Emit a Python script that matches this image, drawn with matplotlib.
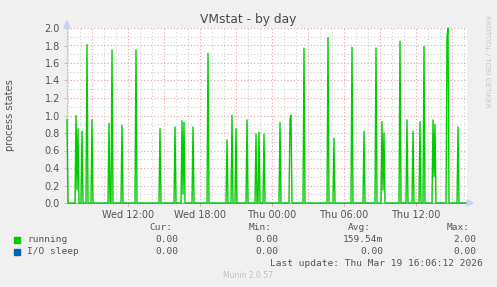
import numpy as np
import pandas as pd
import matplotlib
matplotlib.use("Agg")
import matplotlib.pyplot as plt
import matplotlib.dates as mdates

# 5 minute samples, graph window
start_time = "2026-03-18 06:55"
n_samples = 400

# non-zero samples of "running" (sample time, value)
running_times = ["03-18 06:55", "03-18 07:40", "03-18 07:45", "03-18 07:50", "03-18 08:10",
                 "03-18 08:35", "03-18 09:00", "03-18 10:25", "03-18 10:40", "03-18 11:30",
                 "03-18 12:40", "03-18 14:40", "03-18 15:55", "03-18 16:30", "03-18 16:35",
                 "03-18 16:40", "03-18 17:25", "03-18 18:40", "03-18 20:15", "03-18 20:40",
                 "03-18 21:00", "03-18 21:55", "03-18 22:40", "03-18 22:55", "03-18 23:20",
                 "03-19 00:40", "03-19 01:30", "03-19 01:35", "03-19 02:40", "03-19 04:40",
                 "03-19 05:10", "03-19 06:40", "03-19 07:40", "03-19 08:40", "03-19 09:10",
                 "03-19 09:15", "03-19 09:20", "03-19 10:40", "03-19 11:15", "03-19 11:45",
                 "03-19 12:20", "03-19 12:40", "03-19 13:25", "03-19 13:30", "03-19 13:35",
                 "03-19 14:35", "03-19 14:40", "03-19 15:30"]
running_values = [0.95, 1.00, 0.15, 0.85, 0.82,
                  1.81, 0.95, 0.91, 1.75, 0.89,
                  1.75, 0.85, 0.87, 0.94, 0.10,
                  0.92, 0.87, 1.71, 0.72, 1.00,
                  0.85, 0.95, 0.79, 0.81, 0.79,
                  0.92, 0.96, 1.00, 1.77, 1.89,
                  0.74, 1.78, 0.82, 1.77, 0.93,
                  0.15, 0.80, 1.85, 0.95, 0.82,
                  0.93, 1.79, 0.95, 0.30, 0.90,
                  1.90, 2.00, 0.87]

legend_names = ["running", "I/O sleep"]
legend_colors = ["#00CC00", "#0066B3"]
cur_vals = ["0.00", "0.00"]
min_vals = ["0.00", "0.00"]
avg_vals = ["159.54m", "0.00"]
max_vals = ["2.00", "0.00"]

times = pd.date_range(start_time, periods=n_samples + 1, freq="5min")
running = pd.Series(0.0, index=times)
for t, v in zip(running_times, running_values):
    running[pd.Timestamp(f"2026-{t}")] = v
io_sleep = pd.Series(0.0, index=times)

W, H = 497, 287
fig = plt.figure(figsize=(W / 100, H / 100), dpi=100, facecolor="#F0F0F0")
ax = fig.add_axes([67 / W, 1 - 203 / H, 400 / W, 175 / H])
ax.set_facecolor("white")

txt = "#555555"
mono = "DejaVu Sans Mono"

ax.set_xlim(times[0], times[-1])
ax.set_ylim(0, 2.0)

# grid: gray each hour, red each 3 hours
for t in pd.date_range("2026-03-18 07:00", times[-1], freq="1h"):
    c = "#E8A0A0" if t.hour % 3 == 0 else "#D0D0D0"
    ax.axvline(t, color=c, lw=0.8, ls=(0, (1, 2)), zorder=1)
for y in np.arange(0.1, 2.01, 0.1):
    c = "#E8A0A0" if round(y * 10) % 2 == 0 else "#D0D0D0"
    ax.axhline(y, color=c, lw=0.8, ls=(0, (1, 2)), zorder=1)

ax.plot(times, running.values, color="#00CC00", lw=1.0, zorder=3, clip_on=False)
ax.plot(times, io_sleep.values, color="#0066B3", lw=1.0, alpha=0.4, zorder=2)

for s in ["top", "right"]:
    ax.spines[s].set_visible(False)
ax.spines["left"].set_color("#C8CCF0")
ax.spines["bottom"].set_color("#8FA0E0")

ax.set_yticks(np.arange(0, 2.01, 0.2))
ax.set_yticklabels([f"{v:.1f}" for v in np.arange(0, 2.01, 0.2)])
ax.xaxis.set_major_locator(mdates.HourLocator(byhour=[0, 6, 12, 18]))
ax.xaxis.set_major_formatter(mdates.DateFormatter("%a %H:%M"))
ax.tick_params(axis="both", labelsize=7, colors=txt, length=2, width=0.6)
ax.tick_params(axis="x", color="#E8A0A0", pad=3)
ax.tick_params(axis="y", color="#BBBBBB", pad=3)

# axis arrows
fig.patches.append(plt.Polygon([[467 / W, 1 - 200 / H], [467 / W, 1 - 206 / H], [473 / W, 1 - 203 / H]],
                               closed=True, color="#C8D0F4", transform=fig.transFigure))
fig.patches.append(plt.Polygon([[64 / W, 1 - 28 / H], [70 / W, 1 - 28 / H], [67 / W, 1 - 21 / H]],
                               closed=True, color="#C8D0F4", transform=fig.transFigure))

fig.text(248 / W, 1 - 20 / H, "VMstat - by day", ha="center", va="center", fontsize=8.8, color="#4a4a4a")
fig.text(10 / W, 1 - 115 / H, "process states", ha="center", va="center", rotation=90, fontsize=7.2, color=txt)
fig.text(487 / W, 1 - 15 / H, "RRDTOOL / TOBI OETIKER", ha="center", va="top", rotation=270,
         fontsize=5.2, color="#C8C8C8")

# legend block
fs = 6.8
def fy(y):
    return 1 - y / H

for x, s in zip([172, 272, 371, 470], ["Cur:", "Min:", "Avg:", "Max:"]):
    fig.text(x / W, fy(228), s, ha="right", va="center", fontsize=fs, family=mono, color=txt)
for i, (name, col) in enumerate(zip(legend_names, legend_colors)):
    y = 240 + 12 * i
    fig.patches.append(plt.Rectangle((14 / W, fy(y + 3)), 6 / W, 6 / H, color=col, transform=fig.transFigure))
    fig.text(27 / W, fy(y), name, ha="left", va="center", fontsize=fs, family=mono, color=txt)
    for x, v in zip([178, 278, 383, 476], [cur_vals[i], min_vals[i], avg_vals[i], max_vals[i]]):
        fig.text(x / W, fy(y), v, ha="right", va="center", fontsize=fs, family=mono, color=txt)
fig.text(483 / W, fy(264), "Last update: Thu Mar 19 16:06:12 2026", ha="right", va="center",
         fontsize=fs, family=mono, color=txt)
fig.text(248 / W, fy(276), "Munin 2.0.57", ha="center", va="center", fontsize=5.5, color="#C0C0C0")

fig.savefig("out.png", dpi=100, facecolor=fig.get_facecolor())
